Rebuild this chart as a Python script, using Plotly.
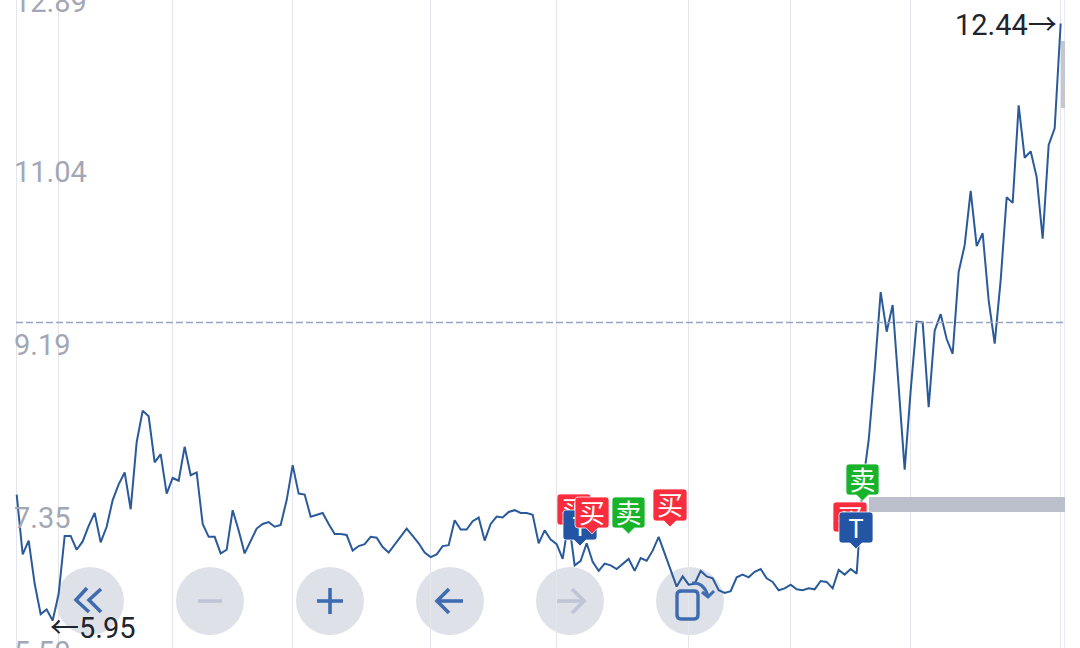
import plotly.graph_objects as go

# ---- data ----
prices = [
 7.32,6.67,6.82,6.35,6.02,6.07,5.95,6.24,6.87,6.87,6.72,6.81,6.98,7.12,6.80,6.97,7.26,7.43,7.56,7.16,
 7.89,8.23,8.17,7.67,7.76,7.33,7.50,7.47,7.84,7.53,7.56,7.00,6.86,6.86,6.68,6.72,7.15,6.93,6.68,6.81,
 6.95,7.00,7.02,6.97,6.99,7.26,7.64,7.33,7.32,7.08,7.10,7.12,7.00,6.89,6.89,6.88,6.71,6.76,6.78,6.86,
 6.85,6.75,6.69,6.78,6.87,6.95,6.87,6.79,6.69,6.64,6.67,6.76,6.77,7.04,6.94,6.94,7.03,7.07,6.82,7.00,
 7.08,7.07,7.13,7.15,7.12,7.12,7.10,6.79,6.93,6.83,6.78,6.62,7.04,6.55,6.60,6.79,6.59,6.49,6.57,6.55,
 6.51,6.57,6.62,6.49,6.63,6.60,6.71,6.86,6.68,6.49,6.32,6.43,6.34,6.35,6.49,6.43,6.41,6.28,6.25,6.27,
 6.42,6.45,6.42,6.48,6.51,6.41,6.37,6.28,6.30,6.34,6.29,6.28,6.30,6.29,6.38,6.37,6.30,6.50,6.45,6.51,
 6.46,7.42,7.91,8.67,9.52,9.09,9.38,8.49,7.59,8.45,9.20,9.19,8.27,9.10,9.28,9.01,8.85,9.74,10.03,10.62,
 10.02,10.16,9.43,8.96,9.65,10.55,10.49,11.55,10.98,11.05,10.77,10.10,11.12,11.30,12.44,
]
indices = list(range(len(prices)))
grid_indices = [0, 7, 26, 46, 69, 90, 112, 129, 149, 174]
y_tick_labels = ["12.89", "11.04", "9.19", "7.35", "5.50"]
y_tick_centers_px = [2, 172, 345, 518, 652]
reference_price = 9.19

W, H = 1080, 648
LINE = "#2a5a9a"; RED = "#f92d3d"; GREEN = "#17b32b"; BLUE = "#2455a4"
ICON = "#3f6cb0"; ICON_OFF = "#bfc4d6"

def X(x): return x / W
def Y(y): return 1 - y / H
def pt(x, y): return f"{X(x):.5f},{Y(y):.5f}"
def poly(points, close=False):
    s = "M" + " L".join(pt(*p) for p in points)
    return s + (" Z" if close else "")

fig = go.Figure()
fig.add_trace(go.Scatter(x=indices, y=prices, mode="lines",
                         line=dict(color=LINE, width=2), hoverinfo="skip", showlegend=False))

shapes = []
def paper(**kw):
    kw.setdefault("xref", "paper"); kw.setdefault("yref", "paper")
    shapes.append(kw)

# round buttons, under the grid and the line
for cx in [90, 210, 330, 450, 570, 690]:
    paper(type="circle", x0=X(cx-34), x1=X(cx+34), y0=Y(601-34), y1=Y(601+34),
          fillcolor="#dfe1e8", line=dict(width=0), layer="below")

# right edge rule, reference line, scroll bars
paper(type="line", x0=X(1064.7), x1=X(1064.7), y0=0, y1=1, line=dict(color="#e6e8ee", width=1), layer="below")
shapes.append(dict(type="line", xref="paper", yref="y", x0=X(16), x1=X(1065), y0=reference_price, y1=reference_price,
                   line=dict(color="#9aa3c0", width=1.6, dash="7px,3px"), layer="above"))
paper(type="rect", x0=X(1061), x1=X(1065), y0=Y(41), y1=Y(108), fillcolor="#c4c6d0", line=dict(width=0))

def stroke(points, color, w=3.6):
    paper(type="path", path=poly(points), line=dict(color=color, width=w))

stroke([(87, 588), (76, 600), (89, 612)], ICON)
stroke([(101, 589), (89, 600), (101, 612)], ICON)
stroke([(198, 601), (222, 601)], ICON_OFF)
stroke([(317, 601), (343, 601)], ICON); stroke([(330, 588), (330, 614)], ICON)
stroke([(438, 601), (463, 601)], ICON); stroke([(449, 589), (437, 601), (449, 613)], ICON)
stroke([(557, 601), (583, 601)], ICON_OFF); stroke([(572, 589), (584, 601), (572, 613)], ICON_OFF)
# rotate icon
x0, x1, y0, y1, r = 677, 698, 591, 619, 4
paper(type="path", line=dict(color=ICON, width=3.4),
      path=f"M{pt(x0+r,y0)} L{pt(x1-r,y0)} Q{pt(x1,y0)} {pt(x1,y0+r)} L{pt(x1,y1-r)} Q{pt(x1,y1)} {pt(x1-r,y1)} "
           f"L{pt(x0+r,y1)} Q{pt(x0,y1)} {pt(x0,y1-r)} L{pt(x0,y0+r)} Q{pt(x0,y0)} {pt(x0+r,y0)} Z")
paper(type="path", line=dict(color=ICON, width=3),
      path=f"M{pt(692,583)} Q{pt(704,582)} {pt(708,596)}")
stroke([(702, 592), (708, 597), (714, 591)], ICON, 3)

# long grey strip next to the last signals
paper(type="rect", x0=X(869), x1=X(1065), y0=Y(497), y1=Y(512), fillcolor="#bcc0cd", line=dict(width=0))

def callout(x0, y0, x1, y1, fill, text):
    r = 3
    tx = (x0 + x1) / 2
    path = (f"M{pt(x0+r,y0)} L{pt(x1-r,y0)} Q{pt(x1,y0)} {pt(x1,y0+r)} L{pt(x1,y1-r)} Q{pt(x1,y1)} {pt(x1-r,y1)} "
            f"L{pt(tx+6,y1)} L{pt(tx,y1+6)} L{pt(tx-6,y1)} L{pt(x0+r,y1)} Q{pt(x0,y1)} {pt(x0,y1-r)} "
            f"L{pt(x0,y0+r)} Q{pt(x0,y0)} {pt(x0+r,y0)} Z")
    paper(type="path", path=path, fillcolor=fill, line=dict(color="rgba(255,255,255,0.75)", width=1),
          label=dict(text=text, textposition="middle center",
                     font=dict(family="Noto Sans CJK SC", size=26, color="white")))

callout(557, 494, 591, 525, RED, "买")
callout(563, 510, 597, 540, BLUE, "T")
callout(575, 497, 609, 528, RED, "买")
callout(612, 497, 645, 528, GREEN, "卖")
callout(653, 489, 687, 521, RED, "买")
callout(846, 464, 879, 495, GREEN, "卖")
callout(833, 502, 867, 532, RED, "买")
callout(839, 512, 873, 543, BLUE, "T")

annotations = []
for lab, yc in zip(y_tick_labels, y_tick_centers_px):
    annotations.append(dict(xref="paper", yref="paper", x=X(12), y=Y(yc), xanchor="left", yanchor="middle",
                            text=lab, showarrow=False, font=dict(family="Roboto", size=29, color="#a3a7b5")))
ARROW = '<span style="font-family:Noto Sans CJK SC">%s</span>'
annotations.append(dict(xref="paper", yref="paper", x=X(1059), y=Y(22), xanchor="right", yanchor="middle",
                        text="12.44" + ARROW % "→", showarrow=False, font=dict(family="Roboto", size=29, color="#20242e")))
annotations.append(dict(xref="paper", yref="paper", x=X(48), y=Y(625), xanchor="left", yanchor="middle",
                        text=ARROW % "←" + "5.95", showarrow=False, font=dict(family="Roboto", size=29, color="#20242e")))

fig.update_layout(
    width=W, height=H, autosize=False, margin=dict(l=0, r=0, t=0, b=0),
    paper_bgcolor="white", plot_bgcolor="rgba(0,0,0,0)", showlegend=False,
    shapes=shapes, annotations=annotations,
    xaxis=dict(range=[-2.778, 177.222], tickmode="array", tickvals=grid_indices, showticklabels=False,
               ticks="", showgrid=True, gridcolor="#e4e6ec", gridwidth=1, zeroline=False, showline=False),
    yaxis=dict(range=[5.652, 12.695], showticklabels=False, ticks="", showgrid=False, zeroline=False, showline=False),
)

fig.write_html("out.html", config=dict(displayModeBar=False),
               post_script="document.body.style.margin='0';document.body.style.overflow='hidden';")
